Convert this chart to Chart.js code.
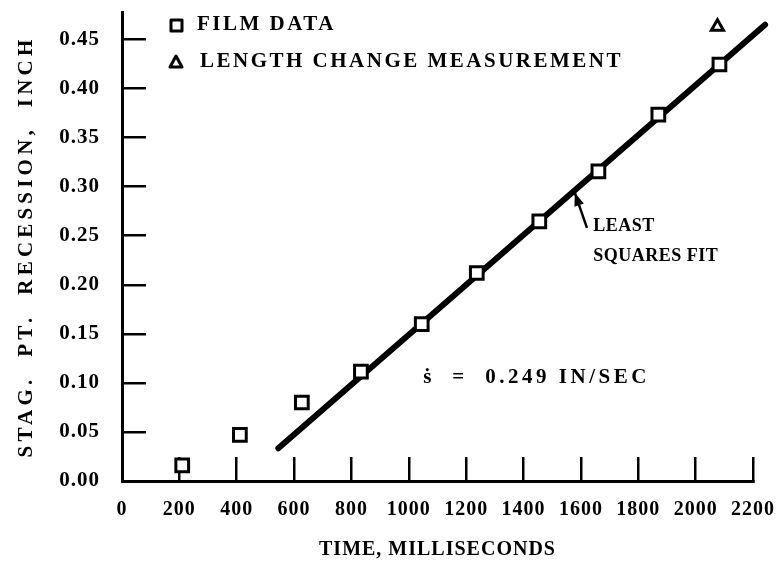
<!DOCTYPE html>
<html><head><meta charset="utf-8">
<script src="https://cdn.jsdelivr.net/npm/chart.js@4/dist/chart.umd.min.js"></script>
<style>html,body{margin:0;padding:0;background:#fff;} #wrap{width:782px;height:569px;}</style>
</head><body><div id="wrap"><canvas id="c" width="782" height="569"></canvas></div>
<script>
// ---- data ----
const timeTicks = [0, 200, 400, 600, 800, 1000, 1200, 1400, 1600, 1800, 2000, 2200];
const recessionTicks = [0, 0.05, 0.10, 0.15, 0.20, 0.25, 0.30, 0.35, 0.40, 0.45];
const filmTime = [210, 411, 627, 833, 1045, 1237, 1455, 1661, 1870, 2083];
const filmRecession = [0.016, 0.047, 0.080, 0.1115, 0.160, 0.212, 0.2646, 0.3156, 0.3735, 0.4245];
const lengthTime = [2076];
const lengthRecession = [0.463];
const fitTime = [545, 2242];
const fitRecession = [0.0334, 0.465];
const legendLabels = ['FILM DATA', 'LENGTH CHANGE MEASUREMENT'];
const xTitle = 'TIME, MILLISECONDS';
const yTitle = 'STAG.  PT.  RECESSION,  INCH';
const fitLabel = ['LEAST', 'SQUARES FIT'];
const fitLabelAt = [1643, 0.26];
const arrowTip = [1579, 0.2936];
const arrowTail = [1621, 0.258];
const rateLabel = 'ṡ  =  0.249 IN/SEC';
const rateLabelAt = [1050, 0.105];

const FONT = "'Liberation Serif', 'DejaVu Serif', serif";

const spacingPlugin = {
  id: 'spacing',
  beforeLayout(c) { c.ctx.letterSpacing = '1px'; },
  beforeDraw(c) { c.ctx.letterSpacing = '1px'; },
  afterDatasetsDraw(c) { c.ctx.letterSpacing = '4.2px'; }
};

const notesPlugin = {
  id: 'notes',
  afterDraw(c) {
    const ctx = c.ctx, xs = c.scales.x, ys = c.scales.y;
    ctx.save();
    ctx.fillStyle = '#000'; ctx.strokeStyle = '#000';
    ctx.textBaseline = 'middle'; ctx.textAlign = 'left';
    // legend (inside plot, top-left)
    ctx.letterSpacing = '2.5px';
    ctx.font = 'bold 21px ' + FONT;
    const lx = xs.left + 54, ly = [ys.top + 13, ys.top + 50];
    ctx.lineWidth = 3; ctx.lineJoin = 'round';
    ctx.beginPath(); ctx.rect(lx - 5, ly[0] - 5, 11, 11); ctx.stroke();
    ctx.beginPath(); ctx.moveTo(lx, ly[1] - 6); ctx.lineTo(lx + 6, ly[1] + 5); ctx.lineTo(lx - 6, ly[1] + 5); ctx.closePath();
    ctx.stroke();
    ctx.fillText(legendLabels[0], lx + 21, ly[0]);
    ctx.fillText(legendLabels[1], lx + 24, ly[1]);
    // least squares annotation
    ctx.letterSpacing = '0.5px';
    ctx.font = 'bold 18px ' + FONT;
    const fx = xs.getPixelForValue(fitLabelAt[0]), fy = ys.getPixelForValue(fitLabelAt[1]);
    ctx.fillText(fitLabel[0], fx, fy);
    ctx.fillText(fitLabel[1], fx, fy + 30);
    const tx = xs.getPixelForValue(arrowTip[0]), ty = ys.getPixelForValue(arrowTip[1]);
    const sx = xs.getPixelForValue(arrowTail[0]), sy = ys.getPixelForValue(arrowTail[1]);
    ctx.lineWidth = 2.5;
    ctx.beginPath(); ctx.moveTo(sx, sy); ctx.lineTo(tx, ty); ctx.stroke();
    const ang = Math.atan2(ty - sy, tx - sx);
    ctx.beginPath();
    ctx.moveTo(tx, ty);
    ctx.lineTo(tx - 13 * Math.cos(ang) + 5 * Math.sin(ang), ty - 13 * Math.sin(ang) - 5 * Math.cos(ang));
    ctx.lineTo(tx - 13 * Math.cos(ang) - 5 * Math.sin(ang), ty - 13 * Math.sin(ang) + 5 * Math.cos(ang));
    ctx.closePath(); ctx.fill();
    // rate annotation
    ctx.letterSpacing = '3.5px';
    ctx.font = 'bold 21px ' + FONT;
    ctx.fillText(rateLabel, xs.getPixelForValue(rateLabelAt[0]), ys.getPixelForValue(rateLabelAt[1]));
    ctx.restore();
  }
};

function noPad(s) { s.paddingLeft = 0; s.paddingRight = 0; s.paddingTop = 0; s.paddingBottom = 0; }

new Chart(document.getElementById('c'), {
  type: 'scatter',
  data: {
    datasets: [
      {
        label: 'LEAST SQUARES FIT',
        data: fitTime.map((t, i) => ({x: t, y: fitRecession[i]})),
        showLine: true, borderColor: '#000', borderWidth: 6, borderCapStyle: 'round',
        pointRadius: 0, clip: false, order: 3
      },
      {
        label: legendLabels[0],
        data: filmTime.map((t, i) => ({x: t, y: filmRecession[i]})),
        pointStyle: 'rect', pointRadius: 9, borderWidth: 3,
        borderColor: '#000', backgroundColor: '#fff', order: 1
      },
      {
        label: legendLabels[1],
        data: lengthTime.map((t, i) => ({x: t, y: lengthRecession[i]})),
        pointStyle: 'triangle', pointRadius: 7, borderWidth: 3,
        borderColor: '#000', backgroundColor: '#fff', order: 2
      }
    ]
  },
  options: {
    responsive: false, animation: false, devicePixelRatio: 1,
    layout: { padding: { top: 12, right: 29, left: 0, bottom: 0 } },
    plugins: { legend: { display: false }, tooltip: { enabled: false } },
    scales: {
      x: {
        type: 'linear', min: 0, max: 2200,
        afterBuildTicks: s => { s.ticks = timeTicks.map(v => ({value: v})); },
        afterFit: s => { s.height = 88; noPad(s); },
        ticks: { padding: 41, color: '#000', font: { family: FONT, size: 20, weight: 'bold' }, callback: v => String(v), maxRotation: 0, autoSkip: false },
        grid: { drawOnChartArea: false, drawTicks: true, tickLength: -24, lineWidth: 2.5, color: '#000' },
        border: { display: true, width: 3, color: '#000' },
        title: { display: true, text: xTitle, color: '#000', font: { family: FONT, size: 20, weight: 'bold' }, padding: { top: 0, bottom: 7 } }
      },
      y: {
        type: 'linear', min: 0, max: 0.478,
        afterBuildTicks: s => { s.ticks = recessionTicks.map(v => ({value: v})); },
        afterFit: s => { s.width = 122; noPad(s); },
        ticks: { padding: 46, color: '#000', font: { family: FONT, size: 21, weight: 'bold' }, callback: v => v.toFixed(2) },
        grid: { z: 1, drawOnChartArea: false, drawTicks: true, tickLength: -24, lineWidth: 2.5, color: '#000' },
        border: { z: 1, display: true, width: 3, color: '#000' },
        title: { display: true, text: yTitle, color: '#000', font: { family: FONT, size: 21, weight: 'bold' }, padding: { top: 14, bottom: 0 } }
      }
    }
  },
  plugins: [spacingPlugin, notesPlugin]
});
</script></body></html>
